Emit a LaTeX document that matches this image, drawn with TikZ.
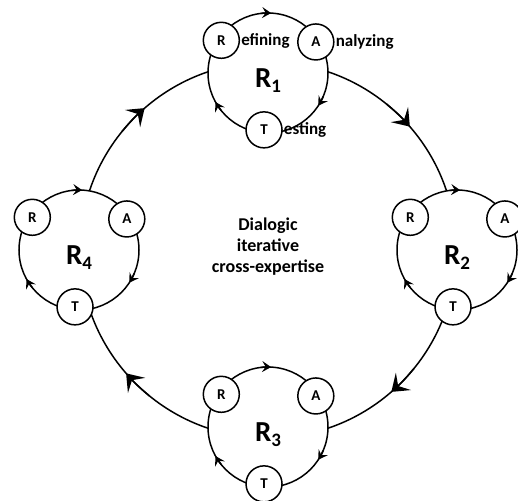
\documentclass[tikz,border=0pt]{standalone}
\usepackage{fontspec}
\setmainfont{Carlito}
\usetikzlibrary{arrows.meta,calc,positioning}
\tikzset{
  loopline/.style={line width=1.5pt},
  roundbox/.style={circle, draw, line width=1.5pt, fill=white, minimum size=120pt, inner sep=0pt},
  letterbox/.style={circle, draw, line width=1.5pt, fill=white, minimum size=36pt, inner sep=0pt, font=\fontsize{15}{18}\selectfont\bfseries},
  stagetext/.style={anchor=base west, inner sep=1pt, font=\fontsize{17}{20}\selectfont\bfseries},
  roundname/.style={inner sep=0pt, font=\fontsize{29}{32}\selectfont\bfseries},
  bigtip/.style={-{Stealth[length=16pt,width=23pt,inset=7pt]}},
  smalltip/.style={-{Stealth[length=9pt,width=11pt,inset=3.5pt]}},
}
\begin{document}
\begin{tikzpicture}[x=1pt,y=1pt]
\useasboundingbox (-268,-250) rectangle (250,250);

\draw[loopline] (0,0) circle (188);
\draw[loopline, bigtip] (51:188) arc (51:41:188);
\draw[loopline, bigtip] (-39:188) arc (-39:-49:188);
\draw[loopline, bigtip] (231:188) arc (231:221:188);
\draw[loopline, bigtip] (141:188) arc (141:131:188);

\node[align=center, font=\fontsize{18}{21}\selectfont\bfseries] (core) at (0,3) {Dialogic\\iterative\\cross-expertise};

\node[roundbox] (round1) at (0,177) {};
\node[roundbox] (round2) at (189,0) {};
\node[roundbox] (round3) at (0,-177) {};
\node[roundbox] (round4) at (-189,0) {};

\node[roundname] at ([yshift=-8pt]round1.center) {R\raisebox{-5pt}{\fontsize{19}{20}\selectfont 1}};
\node[roundname] at ([yshift=-8pt]round2.center) {R\raisebox{-5pt}{\fontsize{19}{20}\selectfont 2}};
\node[roundname] at ([yshift=-8pt]round3.center) {R\raisebox{-5pt}{\fontsize{19}{20}\selectfont 3}};
\node[roundname] at ([yshift=-8pt]round4.center) {R\raisebox{-5pt}{\fontsize{19}{20}\selectfont 4}};

\foreach \n in {1,2,3,4} {
  \draw[loopline, smalltip] ([shift={(97:60)}]round\n.center) arc (97:87:60);
  \draw[loopline, smalltip] ([shift={(-23:60)}]round\n.center) arc (-23:-33:60);
  \draw[loopline, smalltip] ([shift={(219:60)}]round\n.center) arc (219:209:60);
  \node[letterbox] (refine\n) at ($(round\n)+(145:57)$) {R};
  \node[letterbox] (analyze\n) at ($(round\n)+(33:57)$) {A};
  \node[letterbox] (test\n) at ($(round\n)+(266:57)$) {T};
}

\node[stagetext] (refinetext) at (refine1.base -| refine1.east) {efining};
\node[stagetext] (analyzetext) at (analyze1.base -| analyze1.east) {nalyzing};
\node[stagetext] (testtext) at (test1.base -| test1.east) {esting};

\end{tikzpicture}
\end{document}
